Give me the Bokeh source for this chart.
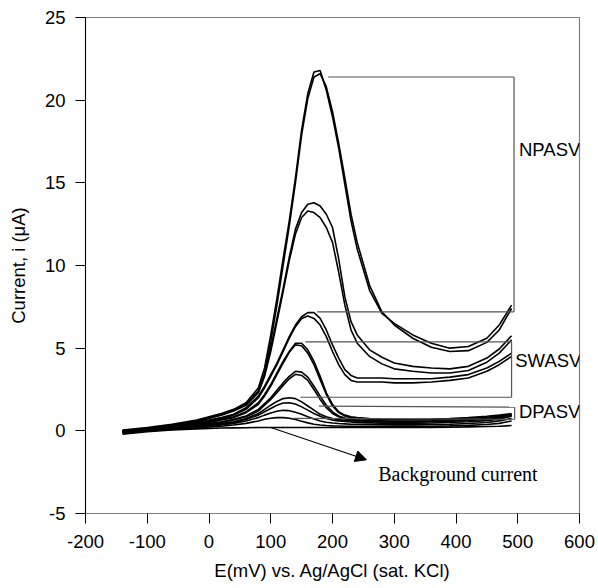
from bokeh.plotting import figure
from bokeh.embed import file_html
from bokeh.resources import INLINE
from bokeh.models import Arrow, NormalHead, Label, FixedTicker, Range1d, PrintfTickFormatter, Title

# ---- data ----
potential_mV = [-140, -100, -60, -20, 0, 20, 40, 60, 80, 90, 100, 110, 120, 130, 140, 150,
                160, 170, 180, 190, 200, 210, 220, 230, 240, 260, 280, 300, 330, 360, 390,
                420, 450, 470, 490]

npasv_1 = [0.05, 0.2, 0.4, 0.65, 0.85, 1.05, 1.3, 1.7, 2.6, 3.8, 5.8, 8.0, 10.4, 12.7, 15.3, 18.2,
           20.4, 21.7, 21.8, 20.6, 19.0, 17.1, 14.9, 12.7, 11.0, 8.5, 7.1, 6.5, 5.8, 5.3, 5.0,
           5.1, 5.6, 6.4, 7.6]
npasv_2 = [-0.05, 0.15, 0.35, 0.6, 0.8, 1.0, 1.25, 1.6, 2.4, 3.5, 5.4, 7.6, 10.0, 12.4, 15.0, 17.9,
           20.1, 21.4, 21.6, 20.8, 19.3, 17.4, 15.3, 13.1, 11.4, 8.8, 7.2, 6.4, 5.6, 5.05, 4.8,
           4.85, 5.35, 6.1, 7.4]
npasv_3 = [0.0, 0.15, 0.35, 0.6, 0.8, 1.0, 1.25, 1.6, 2.4, 3.4, 5.0, 6.8, 8.6, 10.5, 12.2, 13.2,
           13.7, 13.8, 13.6, 13.1, 12.3, 10.4, 8.1, 6.6, 5.8, 4.9, 4.45, 4.1, 3.9, 3.8, 3.75,
           3.9, 4.4, 4.95, 5.75]
npasv_4 = [-0.1, 0.1, 0.3, 0.55, 0.75, 0.95, 1.2, 1.55, 2.3, 3.3, 4.8, 6.6, 8.4, 10.3, 11.9, 12.9,
           13.3, 13.2, 12.9, 12.3, 11.4, 9.6, 7.6, 6.1, 5.3, 4.5, 4.05, 3.75, 3.6, 3.5, 3.5,
           3.65, 4.15, 4.7, 5.5]
npasv_5 = [0.0, 0.1, 0.3, 0.5, 0.65, 0.8, 1.0, 1.4, 2.1, 2.7, 3.4, 4.1, 4.9, 5.7, 6.4, 6.9,
           7.15, 7.15, 6.8, 6.1, 5.2, 4.4, 3.7, 3.35, 3.2, 3.2, 3.2, 3.15, 3.15, 3.15, 3.25,
           3.4, 3.8, 4.2, 4.7]
npasv_6 = [-0.1, 0.05, 0.25, 0.45, 0.6, 0.75, 0.95, 1.3, 2.0, 2.6, 3.3, 4.0, 4.8, 5.6, 6.3, 6.8,
           6.95, 6.8, 6.4, 5.7, 4.8, 4.0, 3.4, 3.05, 2.95, 2.95, 2.95, 2.9, 2.9, 2.95, 3.05,
           3.2, 3.6, 4.0, 4.5]
swasv_1 = [0.0, 0.1, 0.25, 0.45, 0.55, 0.7, 0.85, 1.15, 1.7, 2.2, 2.8, 3.5, 4.2, 4.8, 5.3, 5.3,
           4.9, 4.2, 3.3, 2.3, 1.6, 1.15, 0.95, 0.85, 0.8, 0.75, 0.72, 0.7, 0.7, 0.72, 0.75,
           0.8, 0.88, 0.95, 1.05]
swasv_2 = [-0.05, 0.05, 0.2, 0.4, 0.5, 0.65, 0.8, 1.1, 1.6, 2.1, 2.7, 3.4, 4.1, 4.75, 5.2, 5.15,
           4.7, 4.0, 3.1, 2.2, 1.5, 1.1, 0.9, 0.8, 0.75, 0.7, 0.68, 0.66, 0.66, 0.68, 0.7,
           0.75, 0.82, 0.9, 1.0]
swasv_3 = [0.0, 0.1, 0.2, 0.35, 0.45, 0.55, 0.7, 0.9, 1.3, 1.65, 2.0, 2.45, 2.9, 3.3, 3.6, 3.55,
           3.25, 2.7, 2.1, 1.55, 1.15, 0.9, 0.78, 0.7, 0.66, 0.62, 0.6, 0.58, 0.58, 0.6, 0.63,
           0.68, 0.75, 0.85, 0.95]
swasv_4 = [-0.1, 0.05, 0.15, 0.3, 0.4, 0.5, 0.65, 0.85, 1.2, 1.55, 1.9, 2.3, 2.75, 3.15, 3.42, 3.35,
           3.05, 2.5, 1.9, 1.4, 1.05, 0.85, 0.72, 0.65, 0.6, 0.57, 0.55, 0.54, 0.54, 0.56, 0.6,
           0.65, 0.72, 0.8, 0.9]
swasv_5 = [0.0, 0.08, 0.15, 0.3, 0.38, 0.45, 0.55, 0.75, 1.05, 1.3, 1.55, 1.78, 1.95, 2.0, 1.95, 1.75,
           1.5, 1.25, 1.0, 0.85, 0.75, 0.68, 0.63, 0.6, 0.58, 0.55, 0.53, 0.52, 0.52, 0.55, 0.58,
           0.63, 0.7, 0.8, 0.95]
dpasv_1 = [-0.05, 0.05, 0.12, 0.25, 0.32, 0.4, 0.5, 0.68, 0.95, 1.15, 1.35, 1.55, 1.68, 1.7, 1.62, 1.45,
           1.25, 1.05, 0.88, 0.75, 0.65, 0.6, 0.56, 0.53, 0.5, 0.48, 0.46, 0.45, 0.45, 0.47, 0.5,
           0.55, 0.62, 0.72, 0.88]
dpasv_2 = [-0.1, 0.02, 0.1, 0.2, 0.28, 0.35, 0.45, 0.6, 0.8, 0.95, 1.08, 1.18, 1.24, 1.22, 1.12, 1.0,
           0.85, 0.72, 0.6, 0.52, 0.47, 0.44, 0.42, 0.4, 0.4, 0.38, 0.37, 0.36, 0.36, 0.38, 0.4,
           0.44, 0.5, 0.6, 0.75]
dpasv_3 = [-0.15, 0.0, 0.08, 0.17, 0.23, 0.28, 0.35, 0.45, 0.6, 0.7, 0.76, 0.8, 0.8, 0.76, 0.68, 0.58,
           0.48, 0.4, 0.35, 0.32, 0.3, 0.29, 0.28, 0.28, 0.28, 0.27, 0.27, 0.27, 0.27, 0.28, 0.3,
           0.33, 0.38, 0.45, 0.6]
background = [-0.2, -0.05, 0.05, 0.12, 0.15, 0.17, 0.18, 0.19, 0.2, 0.2, 0.2, 0.2, 0.2, 0.2, 0.2, 0.2,
              0.2, 0.2, 0.2, 0.2, 0.2, 0.2, 0.2, 0.2, 0.2, 0.2, 0.2, 0.2, 0.2, 0.21, 0.22,
              0.24, 0.26, 0.28, 0.32]

curves = [npasv_1, npasv_2, npasv_3, npasv_4, npasv_5, npasv_6,
          swasv_1, swasv_2, swasv_3, swasv_4, swasv_5,
          dpasv_1, dpasv_2, dpasv_3, background]

x_ticks = [-200, -100, 0, 100, 200, 300, 400, 500, 600]
y_ticks = [-5, 0, 5, 10, 15, 20, 25]
x_title = "E(mV) vs. Ag/AgCl (sat. KCl)"
y_title = "Current, i (μA)"

# bracket lines (x0, y0, x1, y1) in data units
bracket_x0 = [193, 494, 175, 156, 490, 148, 178, 495, 135]
bracket_y0 = [21.4, 21.4, 7.2, 5.38, 5.38, 2.03, 1.5, 1.43, 0.75]
bracket_x1 = [494, 494, 494, 490, 490, 490, 495, 495, 495]
bracket_y1 = [21.4, 7.2, 7.2, 5.38, 2.03, 2.03, 1.43, 0.7, 0.7]

label_texts = ["NPASV", "SWASV", "DPASV"]
label_x = [502, 496, 502]
label_y = [17.0, 4.25, 1.19]

arrow_start = (100, 0.2)
arrow_end = (255, -1.75)
bg_text = "Background current"
bg_text_pos = (274, -2.6)

SANS = "Liberation Sans"
SERIF = "Liberation Serif"
FS = "18.5px"

p = figure(width=598, height=588, output_backend="svg", toolbar_location=None,
           x_range=Range1d(-200, 600), y_range=Range1d(-5, 25),
           min_border_left=85, min_border_right=19, min_border_top=17, min_border_bottom=75)
p.xgrid.visible = False
p.ygrid.visible = False
p.outline_line_color = "#808080"
p.outline_line_width = 1.2
p.background_fill_color = "white"
p.border_fill_color = "white"

for ys in curves:
    p.line(potential_mV, ys, line_color="black", line_width=1.6)

p.segment(x0=bracket_x0, y0=bracket_y0, x1=bracket_x1, y1=bracket_y1,
          line_color="#555555", line_width=1.2)

for t, lx, ly in zip(label_texts, label_x, label_y):
    p.add_layout(Label(x=lx, y=ly, text=t, text_font=SANS, text_font_size=FS,
                       text_baseline="middle", text_align="left", text_color="black"))

p.add_layout(Arrow(end=NormalHead(size=11, fill_color="black", line_color="black"),
                   x_start=arrow_start[0], y_start=arrow_start[1],
                   x_end=arrow_end[0], y_end=arrow_end[1],
                   line_color="black", line_width=1.2))
p.add_layout(Label(x=bg_text_pos[0], y=bg_text_pos[1], text=bg_text, text_font=SERIF,
                   text_font_size="20px", text_baseline="middle", text_align="left",
                   text_color="black"))

for ax in (p.xaxis[0], p.yaxis[0]):
    ax.major_tick_out = 10
    ax.major_tick_in = 0
    ax.minor_tick_out = 0
    ax.minor_tick_in = 0
    ax.major_label_text_font = SANS
    ax.major_label_text_font_size = FS
    ax.major_label_text_color = "black"
    ax.axis_label_text_font = SANS
    ax.axis_label_text_font_size = FS
    ax.axis_label_text_font_style = "normal"
    ax.axis_label_text_color = "black"
    ax.major_tick_line_color = "black"
    ax.formatter = PrintfTickFormatter(format="%d")

p.xaxis[0].ticker = FixedTicker(ticks=x_ticks)
p.yaxis[0].ticker = FixedTicker(ticks=y_ticks)
p.yaxis[0].axis_label = y_title
p.xaxis[0].axis_line_color = "#808080"
p.yaxis[0].axis_line_color = "black"
p.xaxis[0].major_label_standoff = 11
p.yaxis[0].major_label_standoff = 10
p.yaxis[0].axis_label_standoff = 13

# x-axis title as a title panel below the axis
p.add_layout(Title(text=x_title, align="center", text_font=SANS, text_font_size=FS,
                   text_font_style="normal", text_color="black", standoff=14), "below")

open("out.html", "w").write(file_html(p, INLINE))
